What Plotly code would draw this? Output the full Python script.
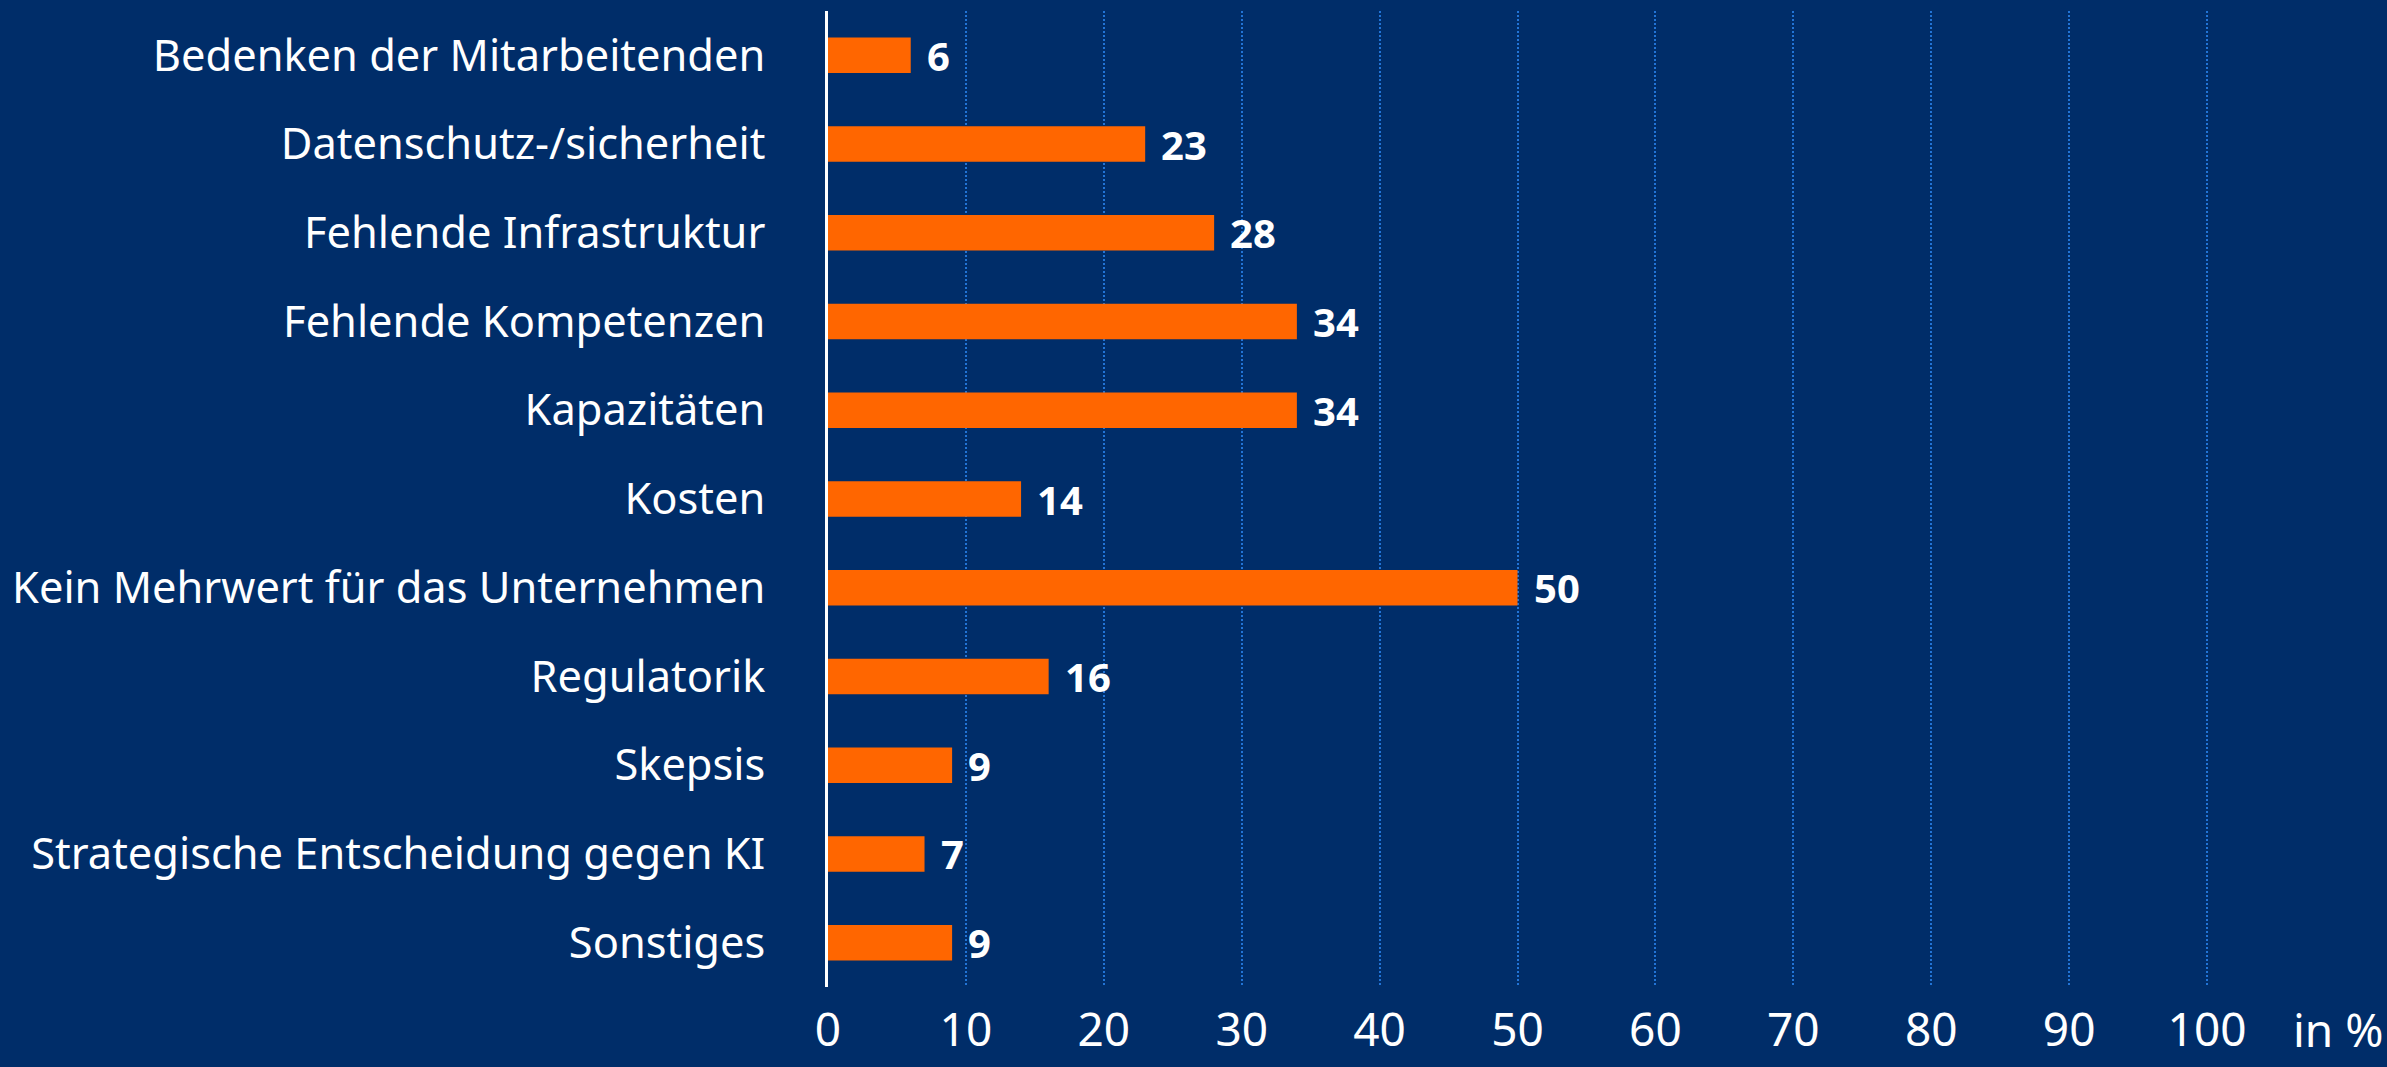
import plotly.graph_objects as go

categories = [
    "Bedenken der Mitarbeitenden",
    "Datenschutz-/sicherheit",
    "Fehlende Infrastruktur",
    "Fehlende Kompetenzen",
    "Kapazitäten",
    "Kosten",
    "Kein Mehrwert für das Unternehmen",
    "Regulatorik",
    "Skepsis",
    "Strategische Entscheidung gegen KI",
    "Sonstiges",
]
values = [6, 23, 28, 34, 34, 14, 50, 16, 9, 7, 9]
tick_vals = [0, 10, 20, 30, 40, 50, 60, 70, 80, 90, 100]
unit_label = "in %"

BG = "#002D69"
ORANGE = "#FF6600"
GRID = "#2274D6"
FONT = "Noto Sans"

fig = go.Figure()
fig.add_trace(go.Bar(
    x=values,
    y=categories,
    orientation="h",
    marker=dict(color=ORANGE, line=dict(width=0)),
    width=0.4,
    hoverinfo="skip",
))

for c, v in zip(categories, values):
    fig.add_annotation(
        x=v, y=c, xref="x", yref="y",
        text=f"<b>{v}</b>", showarrow=False,
        xanchor="left", yanchor="middle", xshift=14,
        font=dict(family=FONT, size=40, color="white"),
    )

fig.add_annotation(
    x=1.043, y=0, xref="paper", yref="paper",
    text=unit_label, showarrow=False,
    xanchor="center", yanchor="middle", yshift=-42,
    borderpad=0,
    font=dict(family=FONT, size=46, color="white"),
)

fig.update_layout(
    width=2387, height=1067,
    paper_bgcolor=BG, plot_bgcolor=BG,
    margin=dict(l=828, r=111, t=11, b=80),
    showlegend=False,
    bargap=0.6,
    font=dict(family=FONT, color="white"),
    xaxis=dict(
        range=[0, 105],
        tickvals=tick_vals,
        ticktext=[str(t) for t in tick_vals],
        showgrid=True, gridcolor=GRID, gridwidth=2, griddash="2px,2px",
        zeroline=False, showline=False, ticks="",
        tickfont=dict(family=FONT, size=46, color="white"),
        ticklabelstandoff=12,
        automargin=False,
    ),
    yaxis=dict(
        categoryorder="array", categoryarray=categories,
        autorange="reversed",
        showgrid=False, zeroline=False,
        showline=True, linecolor="white", linewidth=3,
        ticks="",
        tickfont=dict(family=FONT, size=43.4, color="white"),
        ticklabelstandoff=51,
        automargin=False,
    ),
)

fig.write_html(
    "out.html",
    config={"displayModeBar": False},
    post_script="document.body.style.margin='0';document.body.style.overflow='hidden';",
)
